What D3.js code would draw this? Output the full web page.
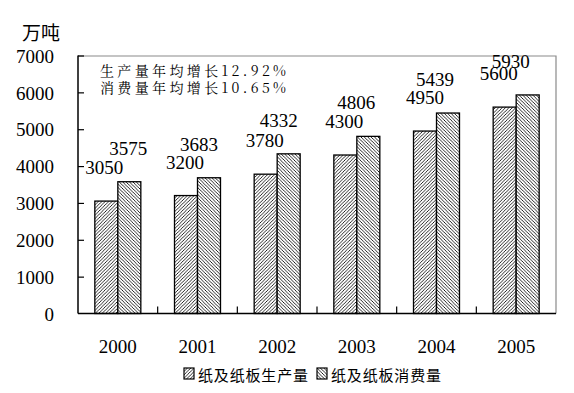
<!DOCTYPE html>
<html>
<head>
<meta charset="utf-8">
<script src="https://cdn.jsdelivr.net/npm/d3@7/dist/d3.min.js"></script>
<style>
  html, body { margin: 0; padding: 0; background: #fff; }
  .vis { width: 574px; height: 393px; }
</style>
</head>
<body>
<div class="vis"></div>
<script>
(function() {
  'use strict';

  var years = ['2000', '2001', '2002', '2003', '2004', '2005'];
  var production = [3050, 3200, 3780, 4300, 4950, 5600];
  var consumption = [3575, 3683, 4332, 4806, 5439, 5930];
  var seriesNames = ['纸及纸板生产量', '纸及纸板消费量'];
  var yTicks = [0, 1000, 2000, 3000, 4000, 5000, 6000, 7000];
  var notes = ['生产量年均增长12.92%', '消费量年均增长10.65%'];
  // hand placed label nudges seen in the picture (x shift of each value label)
  var prodNudge = [-2, -1, -1, -1, 0, -6];
  var consNudge = [-1, -10, -10, -12, -13, -17];

  var SERIF = '"Liberation Serif"';

  var el = d3.select('.vis'),
    elWidth = 574,
    elHeight = 393,
    margin = {top: 55.5, right: 18, bottom: 79.5, left: 78},
    width = elWidth - margin.left - margin.right,
    height = elHeight - margin.top - margin.bottom;

  var svg = el.append('svg')
    .attr('width', elWidth)
    .attr('height', elHeight);

  var defs = svg.append('defs');
  function hatch(id, d) {
    var p = defs.append('pattern')
      .attr('id', id)
      .attr('patternUnits', 'userSpaceOnUse')
      .attr('width', 3.4)
      .attr('height', 3.4);
    p.append('rect').attr('width', 3.4).attr('height', 3.4).attr('fill', '#fff');
    p.append('path').attr('d', d)
      .attr('stroke', '#000')
      .attr('stroke-width', 0.85);
  }
  hatch('fwd', 'M-1,1 L1,-1 M0,3.4 L3.4,0 M2.4,4.4 L4.4,2.4');
  hatch('back', 'M-1,2.4 L1,4.4 M0,0 L3.4,3.4 M2.4,-1 L4.4,1');
  var fills = ['url(#fwd)', 'url(#back)'];

  var g = svg.append('g')
    .attr('transform', 'translate(' + margin.left + ',' + margin.top + ')');

  var x = d3.scaleBand().domain(years).range([0, width])
    .paddingInner(0.4226).paddingOuter(0.2113);
  var xs = d3.scaleBand().domain([0, 1]).range([0, x.bandwidth()]);
  var y = d3.scaleLinear().domain([0, 7000]).range([height, 0]);

  // plot frame: grey top/right
  g.append('path')
    .attr('d', 'M0,0.5H' + width + 'V' + height)
    .attr('fill', 'none')
    .attr('stroke', '#8a8a8a')
    .attr('stroke-width', 1.2);

  var data = years.map(function(yr, i) {
    return {year: yr, vals: [production[i], consumption[i]], nud: [prodNudge[i], consNudge[i]]};
  });

  var grp = g.selectAll('.yr')
    .data(data)
    .enter()
    .append('g')
      .attr('class', 'yr')
      .attr('transform', function(d) { return 'translate(' + x(d.year) + ',0)'; });

  grp.selectAll('rect')
    .data(function(d) { return d.vals; })
    .enter()
    .append('rect')
      .attr('x', function(d, i) { return xs(i); })
      .attr('y', function(d) { return y(d); })
      .attr('width', xs.bandwidth())
      .attr('height', function(d) { return height - y(d); })
      .attr('fill', function(d, i) { return fills[i]; })
      .attr('stroke', '#000')
      .attr('stroke-width', 1.3);

  grp.selectAll('.val')
    .data(function(d) { return d.vals.map(function(v, i) { return {v: v, n: d.nud[i]}; }); })
    .enter()
    .append('text')
      .attr('class', 'val')
      .attr('x', function(d, i) { return xs(i) + xs.bandwidth() / 2 + d.n; })
      .attr('y', function(d) { return y(d.v) - 27; })
      .attr('text-anchor', 'middle')
      .style('font-family', SERIF)
      .style('font-size', '19px')
      .text(function(d) { return d.v; });

  // y axis, inner ticks
  var yAxis = d3.axisLeft(y).tickValues(yTicks).tickSize(-6).tickPadding(24).tickFormat(d3.format('d'));
  var ya = g.append('g').call(yAxis);
  ya.select('.domain').attr('stroke', '#000').attr('stroke-width', 1.5).attr('d', 'M0,0V' + height);
  ya.selectAll('.tick line').attr('stroke', '#000').attr('stroke-width', 1.2);
  ya.selectAll('.tick').filter(function(d) { return d === 0; }).select('line').remove();
  ya.selectAll('text')
    .attr('dy', '0.35em')
    .style('font-family', SERIF)
    .style('font-size', '19px');

  // x axis, ticks between categories
  var xa = g.append('g').attr('transform', 'translate(0,' + height + ')')
    .call(d3.axisBottom(x).tickSize(0).tickPadding(25));
  xa.select('.domain').attr('stroke', '#000').attr('stroke-width', 1.5).attr('d', 'M0,0H' + width);
  xa.selectAll('text')
    .attr('dy', '0.75em')
    .style('font-family', SERIF)
    .style('font-size', '19px');
  xa.selectAll('.sep')
    .data(years.slice(1))
    .enter()
    .append('line')
      .attr('class', 'sep')
      .attr('x1', function(d) { return x(d) - x.step() * x.paddingInner() / 2; })
      .attr('x2', function(d) { return x(d) - x.step() * x.paddingInner() / 2; })
      .attr('y1', 0)
      .attr('y2', -7)
      .attr('stroke', '#000')
      .attr('stroke-width', 1.2);

  // unit label
  svg.append('text')
    .attr('x', 22)
    .attr('y', 40)
    .style('font-family', '"Noto Sans CJK SC"')
    .style('font-size', '19px')
    .text('万吨');

  // growth notes
  svg.selectAll('.note')
    .data(notes)
    .enter()
    .append('text')
      .attr('class', 'note')
      .attr('x', 100)
      .attr('y', function(d, i) { return 76 + i * 17; })
      .attr('textLength', 186)
      .attr('lengthAdjust', 'spacing')
      .style('font-family', '"Noto Serif CJK SC"')
      .style('font-size', '14px')
      .text(function(d) { return d; });

  // legend
  var legX = [184, 317];
  var leg = svg.selectAll('.leg')
    .data(seriesNames)
    .enter()
    .append('g')
      .attr('class', 'leg')
      .attr('transform', function(d, i) { return 'translate(' + legX[i] + ',368)'; });
  leg.append('rect')
    .attr('width', 10)
    .attr('height', 11)
    .attr('fill', function(d, i) { return fills[i]; })
    .attr('stroke', '#000')
    .attr('stroke-width', 1.2);
  leg.append('text')
    .attr('x', 14)
    .attr('y', 12.5)
    .attr('textLength', 110)
    .attr('lengthAdjust', 'spacing')
    .style('font-family', '"Noto Sans CJK SC"')
    .style('font-size', '15px')
    .text(function(d) { return d; });
}());
</script>
</body>
</html>
